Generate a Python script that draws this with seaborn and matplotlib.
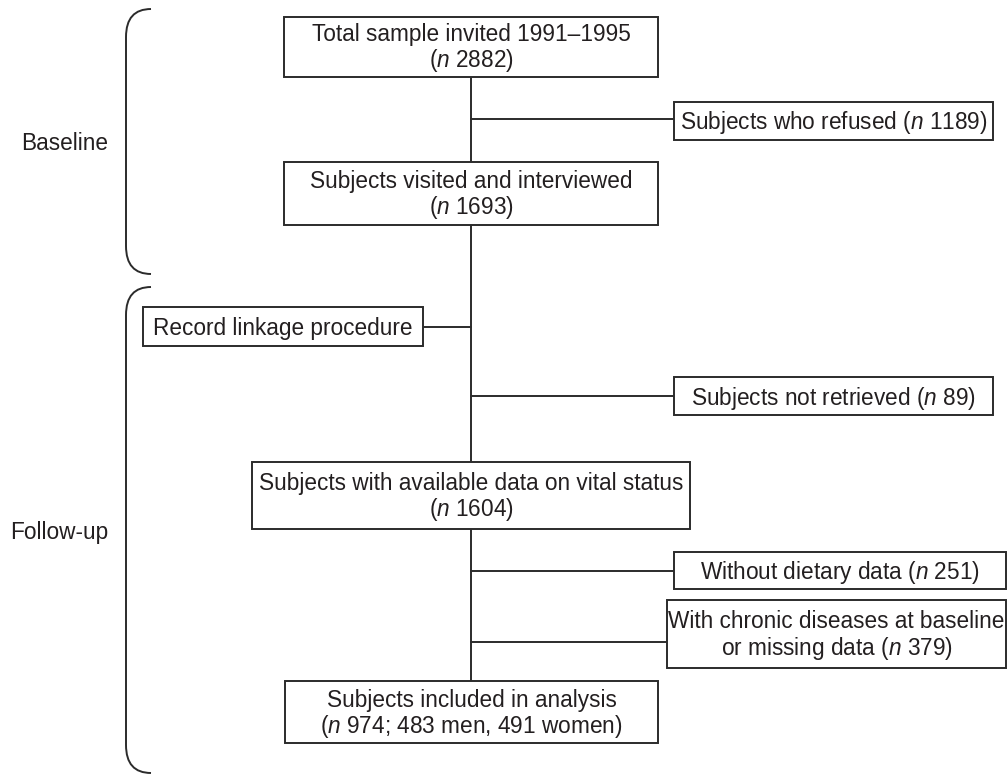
import matplotlib
matplotlib.use("Agg")
import matplotlib.pyplot as plt
from matplotlib.patches import Rectangle, PathPatch
from matplotlib.path import Path
import seaborn as sns

# flowchart content
main_labels = [
    "Total sample invited 1991\u20131995",
    "Subjects visited and interviewed",
    "Subjects with available data on vital status",
    "Subjects included in analysis",
]
main_counts = ["2882", "1693", "1604", "974; 483 men, 491 women"]

side_labels = [
    "Subjects who refused",
    "Record linkage procedure",
    "Subjects not retrieved",
    "Without dietary data",
    "With chronic diseases at baseline\nor missing data",
]
side_counts = ["1189", None, "89", "251", "379"]

phase_labels = ["Baseline", "Follow-up"]

# layout (pixel coords, y down)
W, H = 1007, 774
main_boxes = [(284, 17, 658, 77), (284, 162, 658, 225),
              (252, 462, 690, 529), (285, 681, 658, 743)]
side_boxes = [(674, 102, 993, 140), (143, 307, 423, 346),
              (674, 377, 993, 415), (674, 552, 1006, 589),
              (667, 600, 1006, 668)]
branch_y = [119, 327, 396, 571, 642]
spine_x = 471
braces = [(9, 274), (287, 773)]
phase_pos = [(108, 143), (108, 533)]

sns.set_theme(style="white")
plt.rcParams["font.family"] = ["Liberation Sans", "DejaVu Sans"]
plt.rcParams["mathtext.fontset"] = "custom"
plt.rcParams["mathtext.rm"] = "Liberation Sans"
plt.rcParams["mathtext.it"] = "Liberation Sans:italic"

LC = "#2b2b2b"
TC = "#231f20"
LW = 1.4
FS = 16.3

fig = plt.figure(figsize=(W / 100, H / 100), dpi=100)
ax = fig.add_axes([0, 0, 1, 1])
ax.set_xlim(0, W)
ax.set_ylim(H, 0)
ax.axis("off")


def nlabel(n):
    return "($\\mathit{n}$ " + n + ")"


def box(b, text):
    x0, y0, x1, y1 = b
    ax.add_patch(Rectangle((x0, y0), x1 - x0, y1 - y0, fill=True, fc="white",
                           ec=LC, lw=LW, zorder=3))
    ax.text((x0 + x1) / 2, (y0 + y1) / 2 + 2, text, ha="center", va="center",
            fontsize=FS, color=TC, linespacing=1.05, zorder=4)


# main spine
ax.plot([spine_x, spine_x], [main_boxes[0][3], main_boxes[-1][1]], color=LC, lw=LW, zorder=1)

for b, lab, n in zip(main_boxes, main_labels, main_counts):
    box(b, lab + "\n" + nlabel(n))

for b, lab, n, y in zip(side_boxes, side_labels, side_counts, branch_y):
    txt = lab if n is None else lab + " " + nlabel(n)
    box(b, txt)
    edge = b[0] if b[0] > spine_x else b[2]
    ax.plot([spine_x, edge], [y, y], color=LC, lw=LW, zorder=1)

# brackets
bx0, bx1, r = 126, 151, 28
for (y0, y1), lab, (tx, ty) in zip(braces, phase_labels, phase_pos):
    verts = [(bx1, y0), (bx0, y0), (bx0, y0 + r), (bx0, y1 - r), (bx0, y1), (bx1, y1)]
    codes = [Path.MOVETO, Path.CURVE3, Path.CURVE3, Path.LINETO, Path.CURVE3, Path.CURVE3]
    ax.add_patch(PathPatch(Path(verts, codes), fill=False, ec=LC, lw=LW))
    ax.text(tx, ty, lab, ha="right", va="center", fontsize=FS, color=TC)

fig.savefig("out.png", dpi=100, facecolor="white")
